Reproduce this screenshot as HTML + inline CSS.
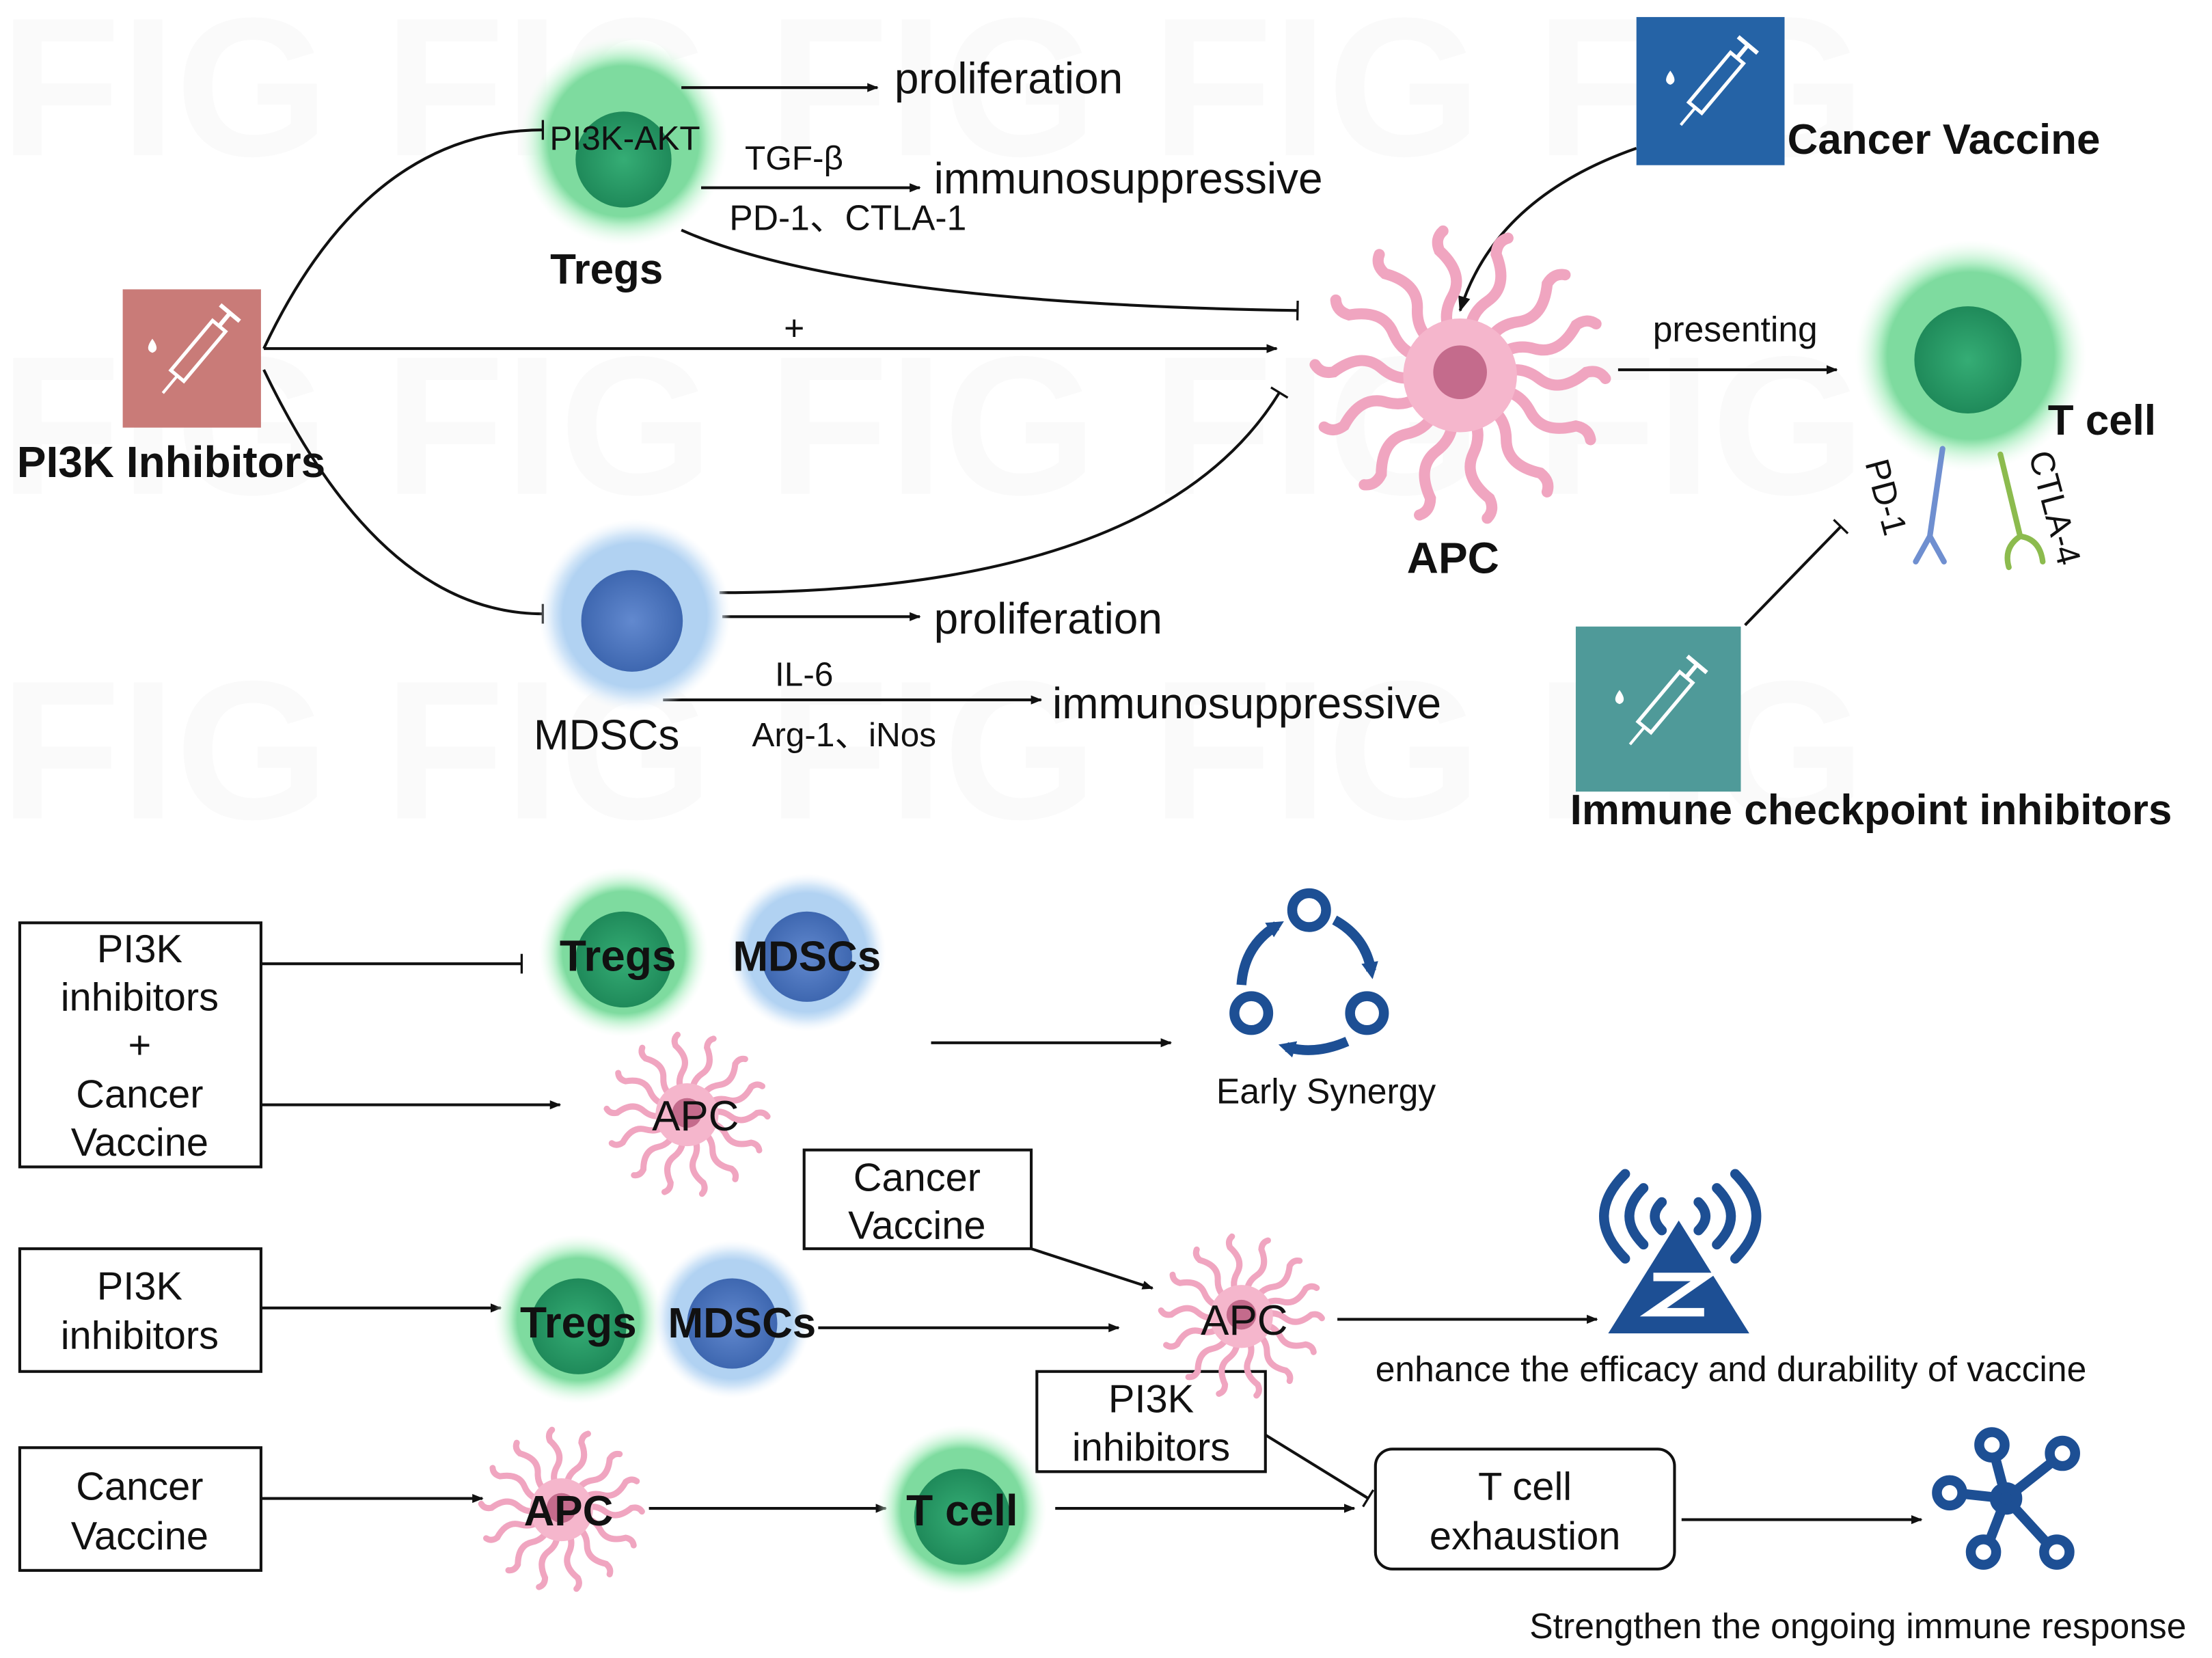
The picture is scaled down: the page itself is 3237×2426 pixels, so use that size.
<!DOCTYPE html>
<html><head><meta charset="utf-8"><style>
html,body{margin:0;padding:0;background:#fff}
svg{display:block}
text{font-family:"Liberation Sans",Arial,sans-serif;fill:#111}
.b{font-weight:bold}
</style></head><body>
<svg width="3237" height="2426" viewBox="0 0 1568 1175" xmlns="http://www.w3.org/2000/svg">
<defs>
<marker id="ar" viewBox="0 0 10 10" refX="9" refY="5" markerWidth="8" markerHeight="8" orient="auto" markerUnits="userSpaceOnUse"><path d="M0,1 L10,5 L0,9 Z" fill="#111"/></marker>
<marker id="ar2" viewBox="0 0 10 10" refX="9" refY="5" markerWidth="11" markerHeight="11" orient="auto" markerUnits="userSpaceOnUse"><path d="M0,1 L10,5 L0,9 Z" fill="#111"/></marker>
<marker id="bar" viewBox="0 0 4 14" refX="2" refY="7" markerWidth="4" markerHeight="14" orient="auto" markerUnits="userSpaceOnUse"><rect x="1" y="0" width="1.6" height="14" fill="#111"/></marker>
<marker id="bla" viewBox="0 0 10 10" refX="5" refY="5" markerWidth="12" markerHeight="12" orient="auto" markerUnits="userSpaceOnUse"><path d="M0,0 L10,5 L0,10 Z" fill="#1d4f94"/></marker>
<radialGradient id="gg"><stop offset="0.72" stop-color="#7edb9f"/><stop offset="0.8" stop-color="#b5efc8"/><stop offset="1" stop-color="#eafcef" stop-opacity="0"/></radialGradient>
<radialGradient id="gi"><stop offset="0" stop-color="#35ad75"/><stop offset="1" stop-color="#1f8a5a"/></radialGradient>
<radialGradient id="bg"><stop offset="0.75" stop-color="#b1d2f2"/><stop offset="0.85" stop-color="#d3e6f8"/><stop offset="1" stop-color="#eef5fc" stop-opacity="0"/></radialGradient>
<radialGradient id="bi"><stop offset="0" stop-color="#6289cf"/><stop offset="1" stop-color="#3e67b0"/></radialGradient>
<g id="tent"><path d="M22,0 q15,-8 28,2 t30,-4 q8,-2 12,4" fill="none" stroke="#f0a5c0" stroke-width="7" stroke-linecap="round"/></g>
<g id="apc">
<use href="#tent" transform="rotate(0)"/><use href="#tent" transform="rotate(25)"/><use href="#tent" transform="rotate(52)"/><use href="#tent" transform="rotate(78)"/><use href="#tent" transform="rotate(105)"/><use href="#tent" transform="rotate(130)"/><use href="#tent" transform="rotate(158)"/><use href="#tent" transform="rotate(183)"/><use href="#tent" transform="rotate(210)"/><use href="#tent" transform="rotate(235)"/><use href="#tent" transform="rotate(262)"/><use href="#tent" transform="rotate(288)"/><use href="#tent" transform="rotate(315)"/><use href="#tent" transform="rotate(338)"/>
<circle r="36" fill="#f5b6cc"/><circle cx="0" cy="-2" r="17" fill="#c46b8c"/>
</g>
<g id="syr"><g transform="rotate(40)"><rect x="-6" y="-30" width="12" height="46" fill="none" stroke="#fff" stroke-width="2.5"/><line x1="0" y1="16" x2="0" y2="32" stroke="#fff" stroke-width="2"/><line x1="0" y1="-30" x2="0" y2="-42" stroke="#fff" stroke-width="3"/><line x1="-9" y1="-42" x2="9" y2="-42" stroke="#fff" stroke-width="3"/></g><path d="M-28,-14 q-6,8 0,10 q6,-2 0,-10z" fill="#fff"/></g>
</defs>

<!-- watermark -->
<g font-size="140" font-weight="bold"><text x="0" y="110" style="fill:#fafafa">FIG FIG FIG FIG FIG</text><text x="0" y="350" style="fill:#fafafa">FIG FIG FIG FIG FIG</text><text x="0" y="580" style="fill:#fafafa">FIG FIG FIG FIG FIG</text></g>

<!-- Tregs top -->
<circle cx="442" cy="100" r="74" fill="url(#gg)"/>
<circle cx="442" cy="113" r="34" fill="url(#gi)"/>
<text x="443" y="106" font-size="24" text-anchor="middle">PI3K-AKT</text>
<text x="430" y="201" font-size="30" class="b" text-anchor="middle">Tregs</text>
<g stroke="#111" stroke-width="2" fill="none">
<line x1="483" y1="62" x2="622" y2="62" marker-end="url(#ar)"/>
<line x1="497" y1="133" x2="652" y2="133" marker-end="url(#ar)"/>
<path d="M483,163 Q600,215 920,220" marker-end="url(#bar)"/>
<path d="M187,247 Q260,92 385,92" marker-end="url(#bar)"/>
<line x1="187" y1="247" x2="905" y2="247" marker-end="url(#ar)"/>
<path d="M187,262 Q270,435 385,435" marker-end="url(#bar)"/>
<path d="M510,420 Q820,420 907,278" marker-end="url(#bar)"/>
<line x1="512" y1="437" x2="652" y2="437" marker-end="url(#ar)"/>
<line x1="470" y1="496" x2="738" y2="496" marker-end="url(#ar)"/>
<path d="M1160,105 Q1060,140 1035,220" marker-end="url(#ar2)"/>
<line x1="1147" y1="262" x2="1302" y2="262" marker-end="url(#ar)"/>
<line x1="1237" y1="443" x2="1305" y2="373" marker-end="url(#bar)"/>
</g>
<text x="634" y="66" font-size="31">proliferation</text>
<text x="662" y="137" font-size="31">immunosuppressive</text>
<text x="528" y="120" font-size="24">TGF-β</text>
<text x="517" y="163" font-size="25">PD-1、CTLA-1</text>
<text x="563" y="241" font-size="25" text-anchor="middle">+</text>

<rect x="87" y="205" width="98" height="98" fill="#c97b78"/>
<use href="#syr" transform="translate(136,254)"/>
<text x="12" y="338" font-size="31" class="b">PI3K Inhibitors</text>

<circle cx="450" cy="436" r="68" fill="url(#bg)"/>
<circle cx="448" cy="440" r="36" fill="url(#bi)"/>
<text x="430" y="531" font-size="30" text-anchor="middle">MDSCs</text>
<text x="662" y="449" font-size="31">proliferation</text>
<text x="746" y="509" font-size="31">immunosuppressive</text>
<text x="570" y="486" font-size="24" text-anchor="middle">IL-6</text>
<text x="533" y="529" font-size="24">Arg-1、iNos</text>

<use href="#apc" transform="translate(1035,266) scale(1.12)"/>
<text x="1030" y="406" font-size="31" class="b" text-anchor="middle">APC</text>

<rect x="1160" y="12" width="105" height="105" fill="#2563a6"/>
<use href="#syr" transform="translate(1212,64)"/>
<text x="1267" y="109" font-size="30" class="b">Cancer  Vaccine</text>
<text x="1230" y="242" font-size="25" text-anchor="middle">presenting</text>

<circle cx="1397" cy="252" r="82" fill="url(#gg)"/>
<circle cx="1395" cy="255" r="38" fill="url(#gi)"/>
<text x="1490" y="308" font-size="30" class="b" text-anchor="middle">T cell</text>
<g fill="none" stroke-width="4" stroke-linecap="round">
<path d="M1377,318 L1368,380 M1368,380 l-10,18 M1368,380 l10,18" stroke="#6f8fd0"/>
<path d="M1418,322 L1432,380 M1432,380 q-12,8 -8,22 M1432,380 q14,2 16,18" stroke="#8cbb4e"/>
</g>
<text transform="translate(1322,328) rotate(75)" font-size="24">PD-1</text>
<text transform="translate(1438,322) rotate(75)" font-size="24">CTLA-4</text>

<rect x="1117" y="444" width="117" height="117" fill="#4f9a99"/>
<use href="#syr" transform="translate(1176,503)"/>
<text x="1113" y="584" font-size="30" class="b">Immune checkpoint inhibitors</text>

<!-- bottom -->
<g fill="#fff" stroke="#111" stroke-width="2">
<rect x="14" y="654" width="171" height="173"/>
<rect x="570" y="815" width="161" height="70"/>
<rect x="14" y="885" width="171" height="87"/>
<rect x="735" y="972" width="162" height="71"/>
<rect x="14" y="1026" width="171" height="87"/>
<rect x="975" y="1027" width="212" height="85" rx="12"/>
</g>
<g font-size="28" text-anchor="middle">
<text x="99" y="682">PI3K</text><text x="99" y="716">inhibitors</text><text x="99" y="750">+</text><text x="99" y="785">Cancer</text><text x="99" y="819">Vaccine</text>
<text x="650" y="844">Cancer</text><text x="650" y="878">Vaccine</text>
<text x="99" y="921">PI3K</text><text x="99" y="956">inhibitors</text>
<text x="816" y="1001">PI3K</text><text x="816" y="1035">inhibitors</text>
<text x="99" y="1063">Cancer</text><text x="99" y="1098">Vaccine</text>
<text x="1081" y="1063">T cell</text><text x="1081" y="1098">exhaustion</text>
</g>
<g stroke="#111" stroke-width="2" fill="none">
<line x1="185" y1="683" x2="370" y2="683" marker-end="url(#bar)"/>
<line x1="185" y1="783" x2="397" y2="783" marker-end="url(#ar)"/>
<line x1="660" y1="739" x2="830" y2="739" marker-end="url(#ar)"/>
<line x1="731" y1="885" x2="817" y2="913" marker-end="url(#ar)"/>
<line x1="185" y1="927" x2="355" y2="927" marker-end="url(#ar)"/>
<line x1="580" y1="941" x2="793" y2="941" marker-end="url(#ar)"/>
<line x1="948" y1="935" x2="1132" y2="935" marker-end="url(#ar)"/>
<line x1="897" y1="1017" x2="970" y2="1062" marker-end="url(#bar)"/>
<line x1="185" y1="1062" x2="342" y2="1062" marker-end="url(#ar)"/>
<line x1="460" y1="1069" x2="628" y2="1069" marker-end="url(#ar)"/>
<line x1="748" y1="1069" x2="960" y2="1069" marker-end="url(#ar)"/>
<line x1="1192" y1="1077" x2="1362" y2="1077" marker-end="url(#ar)"/>
</g>

<circle cx="442" cy="675" r="60" fill="url(#gg)"/><circle cx="442" cy="680" r="34" fill="url(#gi)"/>
<circle cx="572" cy="675" r="56" fill="url(#bg)"/><circle cx="572" cy="678" r="32" fill="url(#bi)"/>
<text x="438" y="688" font-size="31" class="b" text-anchor="middle">Tregs</text>
<text x="572" y="688" font-size="30" class="b" text-anchor="middle">MDSCs</text>
<use href="#apc" transform="translate(487,790) scale(0.62)"/>
<text x="493" y="801" font-size="30" text-anchor="middle">APC</text>

<g fill="none" stroke="#1d4f94" stroke-width="7">
<circle cx="928" cy="645" r="12"/><circle cx="887" cy="718" r="12"/><circle cx="969" cy="718" r="12"/>
<path d="M946,652 Q968,664 972,688" marker-end="url(#bla)"/>
<path d="M955,738 Q932,748 912,742" marker-end="url(#bla)"/>
<path d="M880,698 Q882,670 905,656" marker-end="url(#bla)"/>
</g>
<text x="940" y="782" font-size="25" text-anchor="middle">Early Synergy</text>

<circle cx="410" cy="935" r="60" fill="url(#gg)"/><circle cx="410" cy="940" r="34" fill="url(#gi)"/>
<circle cx="519" cy="935" r="56" fill="url(#bg)"/><circle cx="519" cy="938" r="32" fill="url(#bi)"/>
<text x="410" y="948" font-size="31" class="b" text-anchor="middle">Tregs</text>
<text x="526" y="948" font-size="30" class="b" text-anchor="middle">MDSCs</text>
<use href="#apc" transform="translate(880,933) scale(0.62)"/>
<text x="882" y="946" font-size="30" text-anchor="middle">APC</text>

<g fill="none" stroke="#1d4f94" stroke-width="7" stroke-linecap="round">
<path d="M1178,852 q-10,10 0,20 M1165,842 q-20,20 0,40 M1152,832 q-30,30 0,60"/>
<path d="M1204,852 q10,10 0,20 M1217,842 q20,20 0,40 M1230,832 q30,30 0,60"/>
</g>
<path d="M1190,865 L1140,945 L1240,945 Z" fill="#1d4f94"/>
<path d="M1172,905 L1208,905 L1172,930 L1208,930" fill="none" stroke="#fff" stroke-width="6"/>
<text x="1227" y="979" font-size="25" text-anchor="middle">enhance the efficacy and durability of vaccine</text>

<use href="#apc" transform="translate(398,1070) scale(0.62)"/>
<text x="403" y="1081" font-size="30" class="b" text-anchor="middle">APC</text>
<circle cx="682" cy="1070" r="60" fill="url(#gg)"/><circle cx="682" cy="1075" r="34" fill="url(#gi)"/>
<text x="682" y="1081" font-size="31" class="b" text-anchor="middle">T cell</text>

<g stroke="#1d4f94" stroke-width="7" fill="#fff">
<line x1="1422" y1="1062" x2="1412" y2="1024"/><line x1="1422" y1="1062" x2="1460" y2="1032"/><line x1="1422" y1="1062" x2="1385" y2="1058"/><line x1="1422" y1="1062" x2="1408" y2="1098"/><line x1="1422" y1="1062" x2="1455" y2="1098"/>
<circle cx="1412" cy="1024" r="9"/><circle cx="1462" cy="1030" r="9"/><circle cx="1382" cy="1058" r="9"/><circle cx="1406" cy="1100" r="9"/><circle cx="1458" cy="1100" r="9"/><circle cx="1422" cy="1062" r="8" fill="#1d4f94"/>
</g>
<text x="1317" y="1161" font-size="25" text-anchor="middle">Strengthen the ongoing immune response</text>
</svg>
</body></html>
